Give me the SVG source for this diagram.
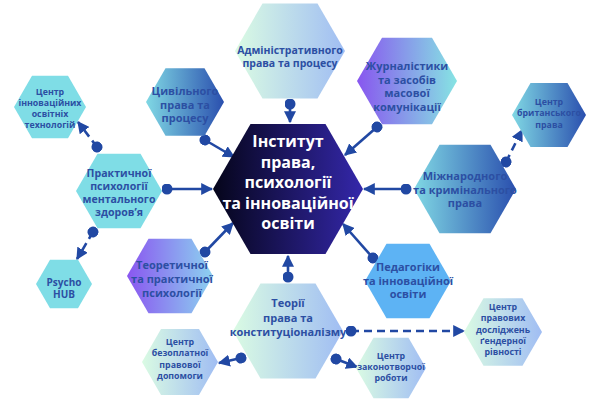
<svg xmlns="http://www.w3.org/2000/svg" width="600" height="406" viewBox="0 0 600 406">
<defs>
<linearGradient id="gCenter" x1="0" y1="0" x2="1" y2="0"><stop offset="0" stop-color="#05051a"/><stop offset="1" stop-color="#3427aa"/></linearGradient>
<linearGradient id="gLight" x1="0" y1="0" x2="1" y2="0"><stop offset="0" stop-color="#dafbe3"/><stop offset="1" stop-color="#a0bdf3"/></linearGradient>
<linearGradient id="gBlue" x1="0" y1="0" x2="1" y2="0"><stop offset="0" stop-color="#80d8e4"/><stop offset="1" stop-color="#2a4fae"/></linearGradient>
<linearGradient id="gPurpCyan" x1="0" y1="0" x2="1" y2="0"><stop offset="0" stop-color="#8856ef"/><stop offset="1" stop-color="#86e4e3"/></linearGradient>
<linearGradient id="gPurpBlue" x1="0" y1="0" x2="1" y2="0"><stop offset="0" stop-color="#8a56f0"/><stop offset="1" stop-color="#8cd2f0"/></linearGradient>
<marker id="arr" markerUnits="userSpaceOnUse" markerWidth="12" markerHeight="12" viewBox="0 0 10 10" refX="9" refY="5" orient="auto"><path d="M0,0 L10,5 L0,10 z" fill="#2148a3"/></marker>
<marker id="dot" markerUnits="userSpaceOnUse" markerWidth="11" markerHeight="11" viewBox="0 0 10 10" refX="5" refY="5" orient="auto"><circle cx="5" cy="5" r="5" fill="#2148a3"/></marker>
</defs>
<style>
text{font-family:"Open Sans","Noto Sans","DejaVu Sans",sans-serif;font-weight:700;fill:#2c4fa3;text-anchor:middle}
.ct{fill:#ffffff;font-size:16px}
.m{font-size:11px}
.s{font-size:8.8px}
.c{stroke:#2148a3;stroke-width:2.6;fill:none;marker-start:url(#dot);marker-end:url(#arr)}
.d{stroke-dasharray:8 5}
</style>
<g id="connectors">
<line class="c" x1="290" y1="104" x2="290" y2="122"/>
<line class="c" x1="205" y1="140" x2="234" y2="157"/>
<line class="c" x1="377" y1="127" x2="345" y2="155"/>
<line class="c" x1="167" y1="189" x2="212" y2="189"/>
<line class="c" x1="406" y1="189" x2="364" y2="189"/>
<line class="c" x1="205" y1="252" x2="233" y2="223"/>
<line class="c" x1="373" y1="258" x2="343" y2="224"/>
<line class="c" x1="288" y1="277" x2="288" y2="256"/>
<line class="c d" x1="97" y1="147" x2="78" y2="122"/>
<line class="c d" x1="93" y1="232" x2="77" y2="259"/>
<line class="c d" x1="506" y1="162" x2="522" y2="130"/>
<line class="c d" x1="351" y1="331" x2="464" y2="331"/>
<line class="c" x1="336" y1="359" x2="357" y2="367"/>
<line class="c" x1="241" y1="358" x2="219" y2="363"/>
</g>
<g id="center">
<polygon points="213,189 250.5,124 325.5,124 363,189 325.5,254 250.5,254" fill="url(#gCenter)"/>
<text class="ct" x="288"><tspan x="288" y="147">Інститут</tspan><tspan x="288" y="167.5">права,</tspan><tspan x="288" y="188">психології</tspan><tspan x="288" y="208.5">та інноваційної</tspan><tspan x="288" y="229">освіти</tspan></text>
</g>
<g id="admin">
<polygon points="235,51 262.5,3.4 317.5,3.4 345,51 317.5,98.6 262.5,98.6" fill="url(#gLight)"/>
<text style="font-size:10.5px"><tspan x="290" y="54">Адміністративного</tspan><tspan x="290" y="67">права та процесу</tspan></text>
</g>
<g id="civil">
<polygon points="146,102 165.5,68.2 204.5,68.2 224,102 204.5,135.8 165.5,135.8" fill="url(#gBlue)"/>
<text class="m"><tspan x="185" y="95">Цивільного</tspan><tspan x="185" y="108.5">права та</tspan><tspan x="185" y="122">процесу</tspan></text>
</g>
<g id="journalism">
<polygon points="357,81 382,37.7 432,37.7 457,81 432,124.3 382,124.3" fill="url(#gPurpCyan)"/>
<text class="m"><tspan x="407" y="70">Журналістики</tspan><tspan x="407" y="83.7">та засобів</tspan><tspan x="407" y="97.4">масової</tspan><tspan x="407" y="111">комунікації</tspan></text>
</g>
<g id="innovtech">
<polygon points="14,107 32,75.8 68,75.8 86,107 68,138.2 32,138.2" fill="#7fdde6"/>
<text class="s"><tspan x="50" y="94.5">Центр</tspan><tspan x="50" y="105.7">інноваційних</tspan><tspan x="50" y="116.9">освітніх</tspan><tspan x="50" y="128.1">технологій</tspan></text>
</g>
<g id="practical">
<polygon points="76,191 97.5,153.8 140.5,153.8 162,191 140.5,228.2 97.5,228.2" fill="#7fdde6"/>
<text style="font-size:10.6px"><tspan x="119" y="177">Практичної</tspan><tspan x="119" y="190">психології</tspan><tspan x="119" y="203">ментального</tspan><tspan x="119" y="216">здоров’я</tspan></text>
</g>
<g id="psychohub">
<polygon points="36,284 50,259.8 78,259.8 92,284 78,308.2 50,308.2" fill="#7fdde6"/>
<text style="font-size:10px"><tspan x="64" y="285.5">Psycho</tspan><tspan x="64" y="298">HUB</tspan></text>
</g>
<g id="international">
<polygon points="414,189 439.5,144.8 490.5,144.8 516,189 490.5,233.2 439.5,233.2" fill="url(#gBlue)"/>
<text class="m"><tspan x="465" y="180">Міжнародного</tspan><tspan x="465" y="193.5">та кримінального</tspan><tspan x="465" y="207">права</tspan></text>
</g>
<g id="british">
<polygon points="512,115 530.5,83 567.5,83 586,115 567.5,147 530.5,147" fill="url(#gBlue)"/>
<text class="s"><tspan x="549" y="104.8">Центр</tspan><tspan x="549" y="116.4">британського</tspan><tspan x="549" y="128">права</tspan></text>
</g>
<g id="theoretical">
<polygon points="127,276 148.5,238.8 191.5,238.8 213,276 191.5,313.2 148.5,313.2" fill="url(#gPurpBlue)"/>
<text class="m"><tspan x="172" y="269">Теоретичної</tspan><tspan x="172" y="283">та практичної</tspan><tspan x="172" y="297">психології</tspan></text>
</g>
<g id="pedagogy">
<polygon points="365,281 386.5,243.8 429.5,243.8 451,281 429.5,318.2 386.5,318.2" fill="#5db3f4"/>
<text class="m"><tspan x="408" y="271">Педагогіки</tspan><tspan x="408" y="284.5">та інноваційної</tspan><tspan x="408" y="298">освіти</tspan></text>
</g>
<g id="theory">
<polygon points="233,331 260.5,283.4 315.5,283.4 343,331 315.5,378.6 260.5,378.6" fill="url(#gLight)"/>
<text class="m"><tspan x="288" y="307">Теорії</tspan><tspan x="288" y="322">права та</tspan><tspan x="288" y="336">конституціоналізму</tspan></text>
</g>
<g id="legalaid">
<polygon points="142,362 161,329.1 199,329.1 218,362 199,394.9 161,394.9" fill="url(#gLight)"/>
<text class="s"><tspan x="180" y="345">Центр</tspan><tspan x="180" y="356.3">безоплатної</tspan><tspan x="180" y="367.6">правової</tspan><tspan x="180" y="379">допомоги</tspan></text>
</g>
<g id="lawmaking">
<polygon points="356,368 373.5,337.7 408.5,337.7 426,368 408.5,398.3 373.5,398.3" fill="url(#gLight)"/>
<text class="s"><tspan x="391" y="358.7">Центр</tspan><tspan x="391" y="370">законотворчої</tspan><tspan x="391" y="381.3">роботи</tspan></text>
</g>
<g id="gender">
<polygon points="464,332 483.5,298.2 522.5,298.2 542,332 522.5,365.8 483.5,365.8" fill="url(#gLight)"/>
<text class="s"><tspan x="503" y="310">Центр</tspan><tspan x="503" y="321.3">правових</tspan><tspan x="503" y="332.6">досліджень</tspan><tspan x="503" y="343.9">ґендерної</tspan><tspan x="503" y="355.2">рівності</tspan></text>
</g>
</svg>
